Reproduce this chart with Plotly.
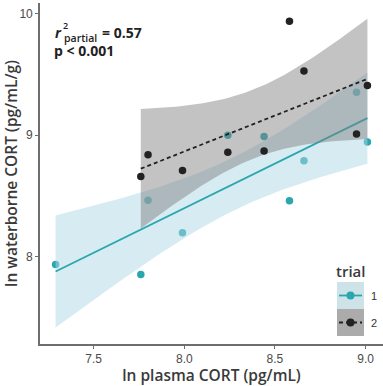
import numpy as np
import plotly.graph_objects as go

# ---- data ----
trial1_x = [7.29, 7.76, 7.80, 7.99, 8.24, 8.44, 8.58, 8.66, 8.95, 9.01]
trial1_y = [7.935, 7.853, 8.465, 8.196, 9.00, 8.99, 8.46, 8.79, 9.355, 8.945]
trial2_x = [7.76, 7.80, 7.99, 8.24, 8.44, 8.58, 8.66, 8.95, 9.01]
trial2_y = [8.66, 8.84, 8.71, 8.86, 8.87, 9.94, 9.53, 9.01, 9.41]
x_ticks = [7.5, 8.0, 8.5, 9.0]
y_ticks = [8, 9, 10]
legend_labels = ["1", "2"]

TEAL = "#2aa6ae"
DARK = "#222222"
BLUE_FILL = "rgba(173,216,230,0.5)"
GRAY_FILL = "rgba(127,127,127,0.47)"

# t quantiles (0.975) for df = n-2
T975 = {7: 2.3646, 8: 2.3060}


def lm_band(xs, ys, npts=80):
    x = np.asarray(xs, float)
    y = np.asarray(ys, float)
    n = len(x)
    xb = x.mean()
    sxx = ((x - xb) ** 2).sum()
    b = ((x - xb) * (y - y.mean())).sum() / sxx
    a = y.mean() - b * xb
    resid = y - (a + b * x)
    s = np.sqrt((resid ** 2).sum() / (n - 2))
    xg = np.linspace(x.min(), x.max(), npts)
    fit = a + b * xg
    se = s * np.sqrt(1.0 / n + (xg - xb) ** 2 / sxx)
    t = T975[n - 2]
    return xg, fit, fit - t * se, fit + t * se


fig = go.Figure()


def add_group(xs, ys, color, fill, dash):
    xg, fit, lo, hi = lm_band(xs, ys)
    fig.add_trace(go.Scatter(
        x=np.concatenate([xg, xg[::-1]]), y=np.concatenate([hi, lo[::-1]]),
        fill="toself", fillcolor=fill, line=dict(width=0), mode="lines",
        hoverinfo="skip", showlegend=False))
    fig.add_trace(go.Scatter(x=xg, y=fit, mode="lines",
                             line=dict(color=color, width=1.8, dash=dash),
                             showlegend=False))


# trial 1: points, ribbon, line
fig.add_trace(go.Scatter(x=trial1_x, y=trial1_y, mode="markers",
                         marker=dict(color=TEAL, size=7.5), showlegend=False))
add_group(trial1_x, trial1_y, TEAL, BLUE_FILL, "solid")
# trial 2
add_group(trial2_x, trial2_y, DARK, GRAY_FILL, "4px,3px")
fig.add_trace(go.Scatter(x=trial2_x, y=trial2_y, mode="markers",
                         marker=dict(color=DARK, size=7.5), showlegend=False))

W, H = 383, 386
ML, MR, MT, MB = 40, 0, 3, 42
PW, PH = W - ML - MR, H - MT - MB


def px(xp):
    return (xp - ML) / PW


def py(yp):
    return (H - MB - yp) / PH


TITLE_FONT = dict(family="Open Sans", size=15.5, color="#3a3a3a", weight=600)
TICK_FONT = dict(family="Liberation Sans", size=12, color="#4a4a4a")

fig.update_layout(
    width=W, height=H,
    margin=dict(l=ML, r=MR, t=MT, b=MB),
    paper_bgcolor="white", plot_bgcolor="white",
    showlegend=False,
    xaxis=dict(range=[7.204, 9.096], tickvals=x_ticks,
               ticktext=["7.5", "8.0", "8.5", "9.0"],
               showgrid=False, zeroline=False, showline=True,
               linecolor="#6e6e6e", linewidth=1.6, ticks="outside",
               ticklen=3, tickcolor="#6e6e6e", tickfont=TICK_FONT,
               title=dict(text="ln plasma CORT (pg/mL)", font=TITLE_FONT, standoff=6)),
    yaxis=dict(range=[7.28, 10.09], tickvals=y_ticks,
               showgrid=False, zeroline=False, showline=True,
               linecolor="#6e6e6e", linewidth=1.6, ticks="outside",
               ticklen=3, tickcolor="#6e6e6e", tickfont=TICK_FONT,
               title=dict(text="ln waterborne CORT (pg/mL/g)", font=TITLE_FONT, standoff=4)),
)

ANN_FONT = dict(family="Open Sans", size=14, color="#222222", weight=700)
anns = [
    dict(text="<i>r</i>", x=px(53), y=py(32), xanchor="left", yanchor="middle", font=ANN_FONT),
    dict(text="2", x=px(61), y=py(25), xanchor="left", yanchor="middle",
         font=dict(family="Open Sans", size=9, color="#222222", weight=600)),
    dict(text="partial", x=px(62), y=py(38), xanchor="left", yanchor="middle",
         font=dict(family="Open Sans", size=10.5, color="#222222", weight=600)),
    dict(text="= 0.57", x=px(100), y=py(32), xanchor="left", yanchor="middle", font=ANN_FONT),
    dict(text="p < 0.001", x=px(52), y=py(50.5), xanchor="left", yanchor="middle", font=ANN_FONT),
    # legend
    dict(text="trial", x=px(334), y=py(271), xanchor="left", yanchor="middle",
         font=dict(family="Open Sans", size=15, color="#3a3a3a", weight=600)),
    dict(text=legend_labels[0], x=px(369), y=py(296), xanchor="left", yanchor="middle",
         font=dict(family="Liberation Sans", size=11, color="#333333")),
    dict(text=legend_labels[1], x=px(369), y=py(323), xanchor="left", yanchor="middle",
         font=dict(family="Liberation Sans", size=11, color="#333333")),
]
for a in anns:
    a.update(xref="paper", yref="paper", showarrow=False)
fig.update_layout(annotations=anns)

shapes = [
    dict(type="rect", x0=px(337), x1=px(364), y0=py(309), y1=py(282),
         fillcolor="#cde3e8", line=dict(width=0)),
    dict(type="rect", x0=px(337), x1=px(364), y0=py(336), y1=py(309),
         fillcolor="#ababab", line=dict(width=0)),
    dict(type="line", x0=px(339), x1=px(362), y0=py(295.5), y1=py(295.5),
         line=dict(color=TEAL, width=1.8)),
    dict(type="line", x0=px(339), x1=px(362), y0=py(322.5), y1=py(322.5),
         line=dict(color=DARK, width=1.8, dash="4px,3px")),
    dict(type="circle", x0=px(346.5), x1=px(354.5), y0=py(299.5), y1=py(291.5),
         fillcolor=TEAL, line=dict(width=0)),
    dict(type="circle", x0=px(346.5), x1=px(354.5), y0=py(326.5), y1=py(318.5),
         fillcolor=DARK, line=dict(width=0)),
]
for s in shapes:
    s.update(xref="paper", yref="paper")
fig.update_layout(shapes=shapes)

fig.write_html("out.html", config={"displayModeBar": False},
               post_script="document.body.style.margin='0px';document.body.style.padding='0px';")
